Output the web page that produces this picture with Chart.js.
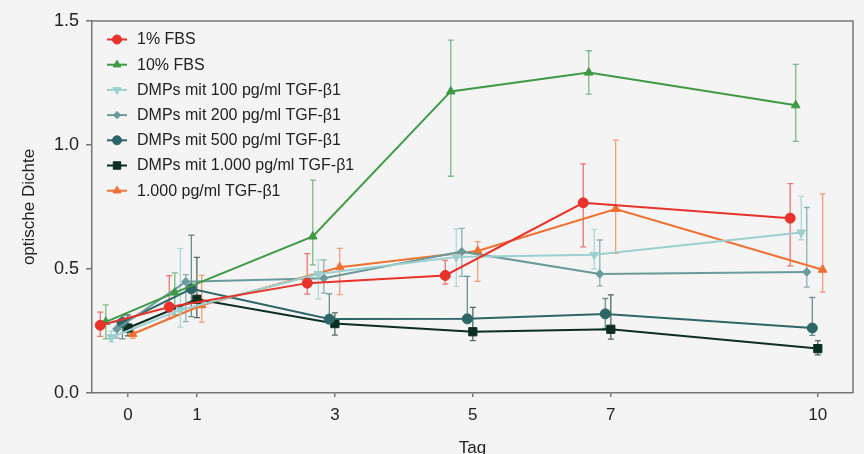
<!DOCTYPE html>
<html>
<head>
<meta charset="utf-8">
<script src="https://cdn.jsdelivr.net/npm/chart.js@4.4.1/dist/chart.umd.min.js"></script>
<style>
  html, body { margin: 0; padding: 0; background: #f4f4f4; }
</style>
</head>
<body>
<canvas id="chart" width="864" height="454"></canvas>
<script>
// measurement days and x ticks
const days = [0, 1, 3, 5, 7, 10];
const xTicks = [0, 1, 3, 5, 7, 10];

const seriesNames = [
    '1% FBS',
    '10% FBS',
    'DMPs mit 100 pg/ml TGF-β1',
    'DMPs mit 200 pg/ml TGF-β1',
    'DMPs mit 500 pg/ml TGF-β1',
    'DMPs mit 1.000 pg/ml TGF-β1',
    '1.000 pg/ml TGF-β1'
];

// horizontal dodge of each series around the day
const dodge = [-0.4, -0.32, -0.24, -0.16, -0.08, 0, 0.07];

// mean optical density
const fbs1    = [0.273, 0.347, 0.443, 0.474, 0.767, 0.705];
const fbs10   = [0.287, 0.405, 0.631, 1.216, 1.292, 1.160];
const dmp100  = [0.225, 0.335, 0.480, 0.548, 0.557, 0.647];
const dmp200  = [0.258, 0.449, 0.463, 0.570, 0.480, 0.488];
const dmp500  = [0.284, 0.420, 0.298, 0.299, 0.319, 0.262];
const dmp1000 = [0.262, 0.378, 0.280, 0.247, 0.257, 0.179];
const tgf1000 = [0.238, 0.354, 0.507, 0.573, 0.742, 0.497];

// error bar ends (low / high)
const errLow = [
    [0.228, 0.300, 0.399, 0.439, 0.589, 0.513],
    [0.218, 0.315, 0.517, 0.874, 1.205, 1.015],
    [0.205, 0.266, 0.380, 0.430, 0.500, 0.618],
    [0.221, 0.288, 0.403, 0.470, 0.432, 0.427],
    [0.218, 0.308, 0.280, 0.290, 0.260, 0.232],
    [0.230, 0.304, 0.233, 0.211, 0.217, 0.154],
    [0.220, 0.286, 0.397, 0.450, 0.563, 0.407]
];
const errHigh = [
    [0.326, 0.473, 0.562, 0.535, 0.924, 0.844],
    [0.355, 0.484, 0.858, 1.423, 1.380, 1.325],
    [0.250, 0.582, 0.537, 0.662, 0.660, 0.793],
    [0.286, 0.477, 0.537, 0.664, 0.617, 0.748],
    [0.311, 0.636, 0.400, 0.470, 0.381, 0.385],
    [0.315, 0.547, 0.323, 0.345, 0.396, 0.211],
    [0.260, 0.474, 0.583, 0.610, 1.020, 0.803]
];

const means = [fbs1, fbs10, dmp100, dmp200, dmp500, dmp1000, tgf1000];

const colors = ['#e8322a', '#3e9a45', '#9ccfcf', '#6a9a9b', '#2e6567', '#0c2e22', '#f07030'];
const errColors = [
    'rgba(232,50,42,0.65)', 'rgba(62,154,69,0.65)', 'rgba(156,207,207,0.8)',
    'rgba(106,154,155,0.75)', 'rgba(46,101,103,0.7)', 'rgba(12,46,34,0.7)', 'rgba(240,112,48,0.65)'
];
const pointStyles = ['circle', 'triangle', 'triangle', 'rectRot', 'circle', 'rect', 'triangle'];
const pointRotations = [0, 0, 180, 0, 0, 0, 0];
const pointRadii = [5, 5, 5, 4.2, 5, 5.8, 5];

const FONT = '"Liberation Sans", Arial, sans-serif';
Chart.defaults.font.family = FONT;
Chart.defaults.color = '#222';

const datasets = means.map((vals, i) => ({
    label: seriesNames[i],
    data: vals.map((v, j) => ({ x: days[j] + dodge[i], y: v, lo: errLow[i][j], hi: errHigh[i][j] })),
    borderColor: colors[i],
    backgroundColor: colors[i],
    pointBackgroundColor: colors[i],
    pointBorderColor: colors[i],
    pointBorderWidth: 1,
    pointStyle: pointStyles[i],
    pointRotation: pointRotations[i],
    pointRadius: pointRadii[i],
    borderWidth: 2,
    tension: 0,
    errColor: errColors[i]
}));

// background + frame on top and right
const framePlugin = {
    id: 'frame',
    beforeDraw(chart) {
        const ctx = chart.ctx;
        ctx.save();
        ctx.fillStyle = '#f4f4f4';
        ctx.fillRect(0, 0, chart.width, chart.height);
        ctx.restore();
    },
    afterDraw(chart) {
        const { ctx, chartArea: a } = chart;
        ctx.save();
        ctx.strokeStyle = '#777';
        ctx.lineWidth = 1.5;
        ctx.beginPath();
        ctx.moveTo(a.left, a.top);
        ctx.lineTo(a.right, a.top);
        ctx.lineTo(a.right, a.bottom);
        ctx.stroke();
        ctx.restore();
    }
};

// vertical error bars with small caps
const errorBarPlugin = {
    id: 'errorBars',
    beforeDatasetsDraw(chart) {
        const { ctx, scales: { x, y } } = chart;
        chart.data.datasets.forEach((ds, i) => {
            ctx.save();
            ctx.strokeStyle = ds.errColor;
            ctx.lineWidth = 1.3;
            ds.data.forEach(p => {
                const px = x.getPixelForValue(p.x);
                const top = y.getPixelForValue(p.hi);
                const bot = y.getPixelForValue(p.lo);
                ctx.beginPath();
                ctx.moveTo(px, top); ctx.lineTo(px, bot);
                ctx.moveTo(px - 3, top); ctx.lineTo(px + 3, top);
                ctx.moveTo(px - 3, bot); ctx.lineTo(px + 3, bot);
                ctx.stroke();
            });
            ctx.restore();
        });
    }
};

// legend inside the plot, line + marker
const legendPlugin = {
    id: 'innerLegend',
    afterDraw(chart) {
        const ctx = chart.ctx;
        ctx.save();
        chart.data.datasets.forEach((ds, i) => {
            const cy = 39.5 + i * 25.2;
            ctx.strokeStyle = ds.borderColor;
            ctx.fillStyle = ds.borderColor;
            ctx.lineWidth = 2;
            ctx.beginPath();
            ctx.moveTo(107, cy);
            ctx.lineTo(127, cy);
            ctx.stroke();
            ctx.lineWidth = 1;
            Chart.helpers.drawPoint(ctx, {
                pointStyle: ds.pointStyle,
                rotation: ds.pointRotation,
                radius: ds.pointRadius - 0.5,
                borderWidth: 1
            }, 117, cy);
            ctx.fillStyle = '#222';
            ctx.font = '16px ' + FONT;
            ctx.textBaseline = 'middle';
            ctx.textAlign = 'left';
            ctx.fillText(ds.label, 137, cy + 0.5);
        });
        ctx.restore();
    }
};

new Chart(document.getElementById('chart'), {
    type: 'line',
    data: { datasets },
    options: {
        responsive: false,
        animation: false,
        layout: { padding: { top: 21, right: 11, left: 0, bottom: 0 } },
        plugins: {
            legend: { display: false },
            tooltip: { enabled: false }
        },
        scales: {
            x: {
                type: 'linear',
                min: -0.52,
                max: 10.51,
                afterBuildTicks: s => { s.ticks = xTicks.map(v => ({ value: v })); },
                ticks: { font: { size: 17 }, color: '#222', padding: 8, autoSkip: false, maxRotation: 0 },
                grid: { drawOnChartArea: false, tickLength: 4, color: '#777', lineWidth: 1.5 },
                border: { color: '#777', width: 1.5 },
                title: { display: true, text: 'Tag', font: { size: 17 }, color: '#222', padding: { top: 0, bottom: -5 } },
                afterFit(s) { s.height = 61; }
            },
            y: {
                min: 0,
                max: 1.5,
                ticks: { stepSize: 0.5, callback: v => v.toFixed(1), font: { size: 18 }, color: '#222', padding: 7 },
                grid: { drawOnChartArea: false, tickLength: 6, color: '#777', lineWidth: 1.5 },
                border: { color: '#777', width: 1.5 },
                title: { display: true, text: 'optische Dichte', font: { size: 17 }, color: '#222', padding: { top: 19, bottom: 0 } },
                afterFit(s) { s.width = 92; }
            }
        }
    },
    plugins: [framePlugin, errorBarPlugin, legendPlugin]
});
</script>
</body>
</html>
